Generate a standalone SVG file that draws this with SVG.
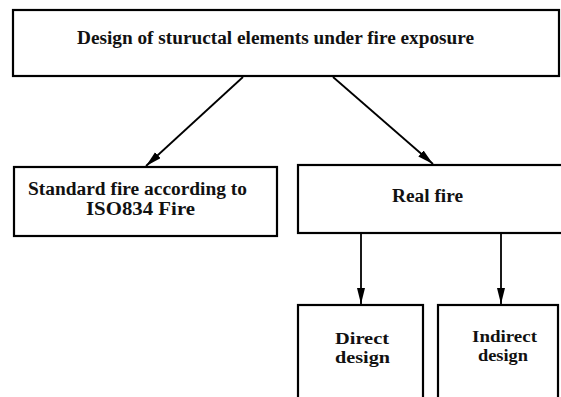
<svg xmlns="http://www.w3.org/2000/svg" width="561" height="397" viewBox="0 0 561 397">
<style>
.box{fill:#fff;stroke:#000;stroke-width:2.2}
.t{font-family:"Liberation Serif","Times New Roman",serif;font-weight:bold;font-size:18px;fill:#111}
.s{font-size:16px}
.c{stroke:#000;stroke-width:1.8;fill:none}
</style>
<defs>
<marker id="ah" markerUnits="userSpaceOnUse" markerWidth="18" markerHeight="10" refX="16" refY="4" orient="auto">
<path d="M0,0 L16,4 L0,8 Z" fill="#000"/>
</marker>
</defs>
<rect width="561" height="397" fill="#fff"/>
<g id="top">
<rect class="box" x="13" y="10" width="546" height="66"/>
<text class="t" x="77" y="44" textLength="397" lengthAdjust="spacingAndGlyphs">Design of stuructal elements under fire exposure</text>
</g>
<g id="standard">
<rect class="box" x="14" y="167" width="263" height="69"/>
<text class="t" x="28" y="195" textLength="219" lengthAdjust="spacingAndGlyphs">Standard fire according to</text>
<text class="t" x="86" y="215" textLength="109" lengthAdjust="spacingAndGlyphs">ISO834 Fire</text>
</g>
<g id="real">
<rect class="box" x="298" y="165" width="270" height="68"/>
<text class="t" x="392" y="202" textLength="71" lengthAdjust="spacingAndGlyphs">Real fire</text>
</g>
<g id="direct">
<rect class="box" x="298" y="305" width="125" height="100"/>
<text class="t s" x="335" y="344" textLength="54" lengthAdjust="spacingAndGlyphs">Direct</text>
<text class="t s" x="335" y="363" textLength="55" lengthAdjust="spacingAndGlyphs">design</text>
</g>
<g id="indirect">
<rect class="box" x="438" y="305" width="120" height="100"/>
<text class="t s" x="472" y="342" textLength="65" lengthAdjust="spacingAndGlyphs">Indirect</text>
<text class="t s" x="478" y="361" textLength="50" lengthAdjust="spacingAndGlyphs">design</text>
</g>
<g id="connectors">
<line class="c" x1="243" y1="77" x2="146" y2="166" marker-end="url(#ah)"/>
<line class="c" x1="333" y1="77" x2="433" y2="164" marker-end="url(#ah)"/>
<line class="c" x1="361" y1="234" x2="361" y2="304" marker-end="url(#ah)"/>
<line class="c" x1="501" y1="234" x2="501" y2="304" marker-end="url(#ah)"/>
</g>
</svg>
